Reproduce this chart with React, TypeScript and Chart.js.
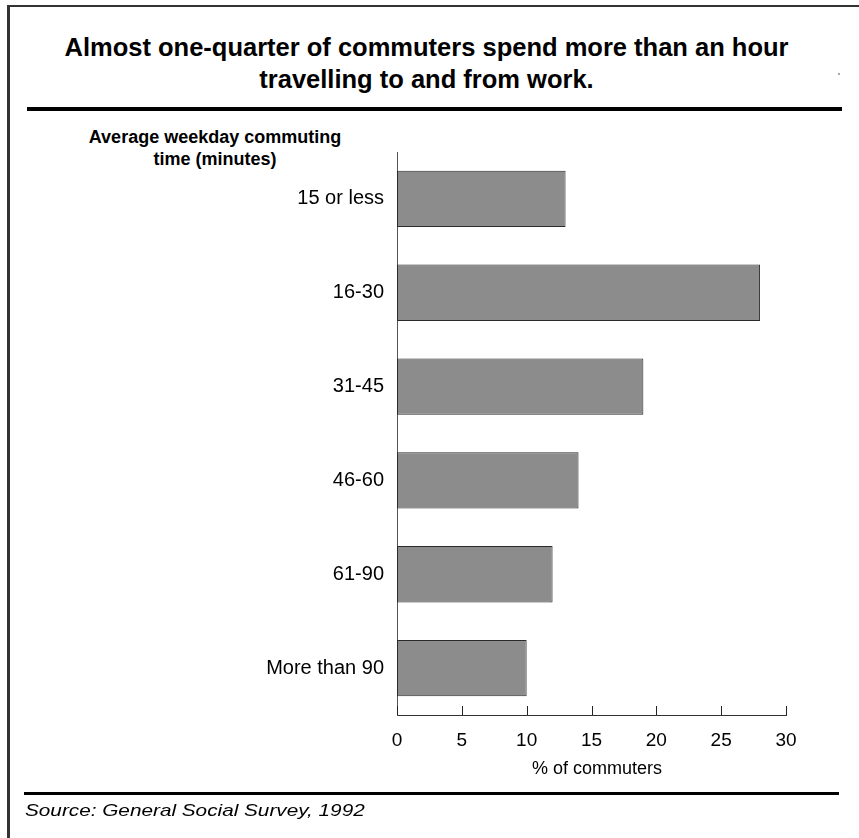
import React, { useEffect, useRef } from "react";
import { Chart, registerables } from "chart.js";

Chart.register(...registerables);

const categories = ["15 or less", "16-30", "31-45", "46-60", "61-90", "More than 90"];
const percentCommuters = [13, 28, 19, 14, 12, 10];
const xTickValues = [0, 5, 10, 15, 20, 25, 30];

const titleLines = [
  "Almost one-quarter of commuters spend more than an hour",
  "travelling to and from work.",
];
const yHeading = ["Average weekday commuting", "time (minutes)"];
const xTitle = "% of commuters";
const sourceText = "Source: General Social Survey, 1992";

const FONT = "'Liberation Sans', Arial, Helvetica, sans-serif";

const upTicksPlugin = {
  id: "upTicks",
  afterDatasetsDraw(chart: any) {
    const xs = chart.scales.x;
    const ctx = chart.ctx;
    ctx.save();
    ctx.strokeStyle = "#222";
    ctx.lineWidth = 1;
    xs.ticks.forEach((t: any) => {
      const px = Math.round(xs.getPixelForValue(t.value)) + 0.5;
      ctx.beginPath();
      ctx.moveTo(px, xs.top);
      ctx.lineTo(px, xs.top - 9);
      ctx.stroke();
    });
    ctx.restore();
  },
};

export default function App() {
  const canvasRef = useRef<HTMLCanvasElement | null>(null);

  useEffect(() => {
    if (!canvasRef.current) return;
    const chart = new Chart(canvasRef.current, {
      type: "bar",
      data: {
        labels: categories,
        datasets: [
          {
            data: percentCommuters,
            backgroundColor: "#8c8c8c",
            borderColor: "#2a2a2a",
            borderWidth: 1,
            borderSkipped: false,
            barPercentage: 0.6,
            categoryPercentage: 1,
          },
        ],
      },
      options: {
        indexAxis: "y",
        animation: false,
        responsive: false,
        maintainAspectRatio: false,
        devicePixelRatio: 1,
        layout: { padding: { left: 0, top: 152, right: 73, bottom: 0 } },
        plugins: {
          legend: { display: false },
          tooltip: { enabled: false },
          title: { display: false },
        },
        scales: {
          x: {
            type: "linear",
            position: "bottom",
            min: 0,
            max: 30,
            afterBuildTicks: (scale: any) => {
              scale.ticks = xTickValues.map((v) => ({ value: v }));
            },
            afterFit: (scale: any) => {
              scale.height = 123;
            },
            ticks: {
              color: "#000",
              padding: 14,
              font: { family: FONT, size: 19 },
            },
            grid: { display: false, drawTicks: false },
            border: { display: true, color: "#333", width: 1 },
          },
          y: {
            type: "category",
            position: "left",
            afterFit: (scale: any) => {
              scale.width = 397;
            },
            ticks: {
              color: "#000",
              padding: 13,
              font: { family: FONT, size: 20 },
            },
            grid: { display: false, drawTicks: false },
            border: { display: true, color: "#555", width: 1 },
          },
        },
      },
      plugins: [upTicksPlugin],
    } as any);
    return () => chart.destroy();
  }, []);

  return (
    <div
      style={{
        position: "absolute",
        left: 0,
        top: 0,
        width: 859,
        height: 838,
        overflow: "hidden",
        background: "#fff",
        fontFamily: FONT,
        color: "#000",
      }}
    >
      {/* frame */}
      <div
        style={{
          position: "absolute",
          left: 7,
          top: 5,
          width: 900,
          height: 900,
          borderLeft: "3px solid #333",
          borderTop: "2px solid #333",
        }}
      />
      {/* stray dot in original */}
      <div style={{ position: "absolute", left: 838, top: 73, width: 2, height: 2, background: "#aaa" }} />
      {/* title */}
      <div
        style={{
          position: "absolute",
          left: 26.5,
          width: 800,
          top: 31,
          fontSize: 25.5,
          lineHeight: "32px",
          fontWeight: "bold",
          textAlign: "center",
          whiteSpace: "nowrap",
        }}
      >
        {titleLines.map((l, i) => (
          <div key={i}>{l}</div>
        ))}
      </div>
      {/* title rule */}
      <div style={{ position: "absolute", left: 27, top: 107, width: 815, height: 4, background: "#000" }} />
      {/* y heading */}
      <div
        style={{
          position: "absolute",
          left: 65,
          width: 300,
          top: 126,
          fontSize: 18,
          lineHeight: "22px",
          fontWeight: "bold",
          textAlign: "center",
          whiteSpace: "nowrap",
        }}
      >
        {yHeading.map((l, i) => (
          <div key={i}>{l}</div>
        ))}
      </div>
      <canvas
        ref={canvasRef}
        width={859}
        height={838}
        style={{ position: "absolute", left: 0, top: 0, width: 859, height: 838 }}
      />
      {/* x title */}
      <div
        style={{
          position: "absolute",
          left: 447,
          width: 300,
          top: 759,
          fontSize: 18,
          lineHeight: "18px",
          textAlign: "center",
          whiteSpace: "nowrap",
        }}
      >
        {xTitle}
      </div>
      {/* source rule */}
      <div style={{ position: "absolute", left: 24, top: 792, width: 815, height: 3, background: "#000" }} />
      {/* source */}
      <div
        style={{
          position: "absolute",
          left: 25,
          top: 801.5,
          fontSize: 17,
          lineHeight: "17px",
          fontStyle: "italic",
          whiteSpace: "nowrap",
          transform: "scaleX(1.22)",
          transformOrigin: "left center",
        }}
      >
        {sourceText}
      </div>
    </div>
  );
}
